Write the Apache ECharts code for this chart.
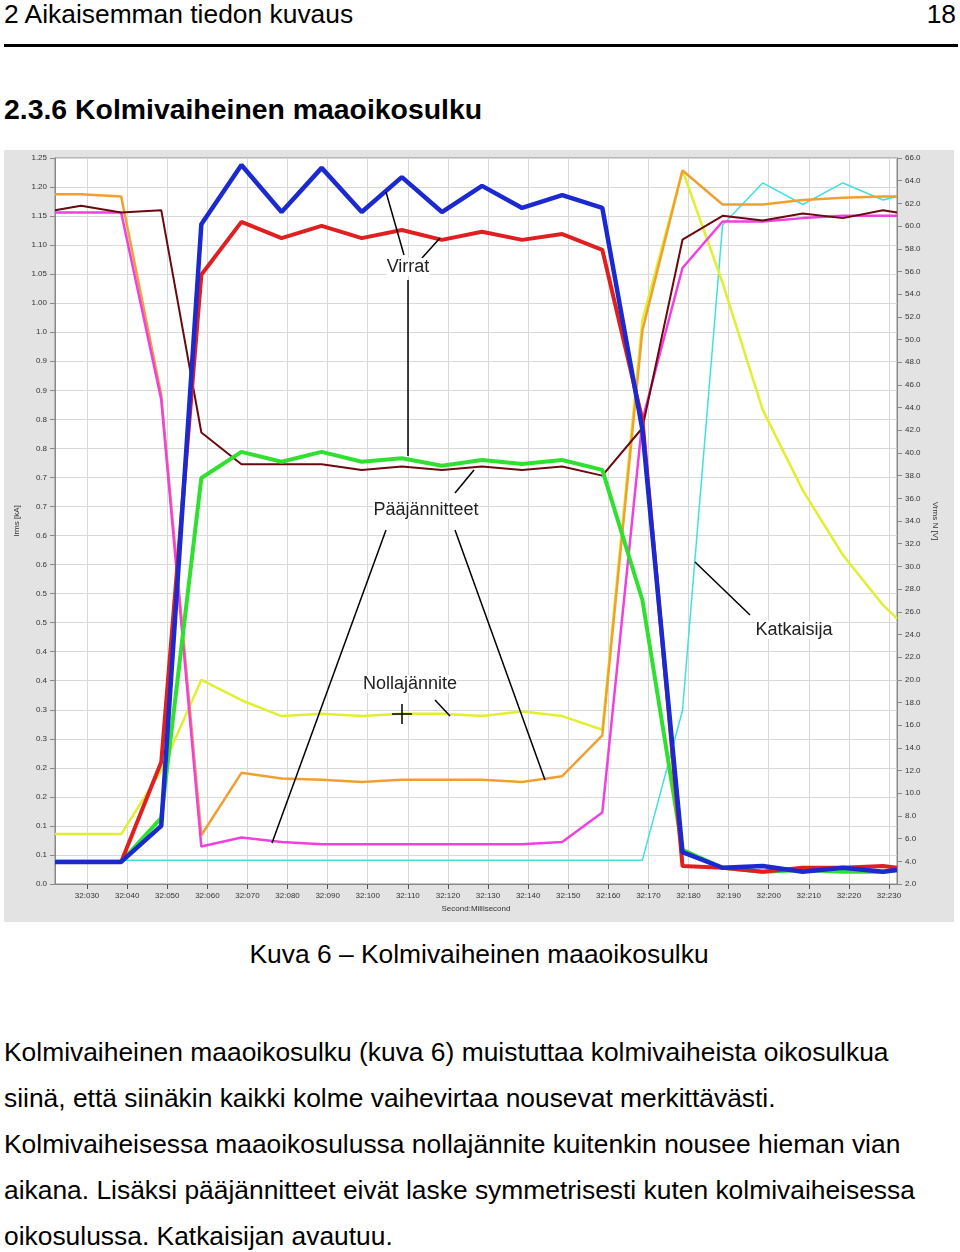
<!DOCTYPE html>
<html><head><meta charset="utf-8">
<script src="https://cdn.jsdelivr.net/npm/echarts@6/dist/echarts.min.js"></script>
<style>
body{margin:0;width:960px;height:1252px;background:#fff;font-family:"Liberation Sans",Arial,sans-serif;position:relative;overflow:hidden}
.t{position:absolute;color:#000;white-space:nowrap}
#c{position:absolute;left:4px;top:150px;width:950px;height:772px}
</style></head><body>
<div class="t" style="left:4px;top:-1px;font-size:26.4px">2 Aikaisemman tiedon kuvaus</div>
<div class="t" style="right:4px;top:-1px;font-size:26.4px">18</div>
<div style="position:absolute;left:4px;top:44px;width:954px;height:3px;background:#000"></div>
<div class="t" style="left:4px;top:93px;font-size:28.4px;font-weight:bold">2.3.6 Kolmivaiheinen maaoikosulku</div>
<div id="c"></div>
<div class="t" style="left:0;width:958px;text-align:center;top:939px;font-size:26.4px">Kuva 6 – Kolmivaiheinen maaoikosulku</div>
<div class="t" style="left:4px;top:1029px;font-size:26.4px;line-height:46px">Kolmivaiheinen maaoikosulku (kuva 6) muistuttaa kolmivaiheista oikosulkua<br>siinä, että siinäkin kaikki kolme vaihevirtaa nousevat merkittävästi.<br>Kolmivaiheisessa maaoikosulussa nollajännite kuitenkin nousee hieman vian<br>aikana. Lisäksi pääjännitteet eivät laske symmetrisesti kuten kolmivaiheisessa<br>oikosulussa. Katkaisijan avautuu.</div>
<script>
const times=[22,28.5,38.5,48.5,58.5,68.5,78.5,88.5,98.5,108.5,118.5,128.5,138.5,148.5,158.5,168.5,178.5,188.5,198.5,208.5,218.5,228.5,232];
const xTicks=[30,40,50,60,70,80,90,100,110,120,130,140,150,160,170,180,190,200,210,220,230];
const xLabels=["32:030","32:040","32:050","32:060","32:070","32:080","32:090","32:100","32:110","32:120","32:130","32:140","32:150","32:160","32:170","32:180","32:190","32:200","32:210","32:220","32:230"];
const leftLabels=["0.0","0.1","0.1","0.2","0.2","0.3","0.3","0.4","0.4","0.5","0.5","0.6","0.6","0.7","0.7","0.8","0.8","0.9","0.9","1.0","1.00","1.05","1.10","1.15","1.20","1.25"];
const currBlue=[0.038,0.038,0.038,0.100,1.136,1.238,1.157,1.233,1.157,1.217,1.157,1.202,1.164,1.186,1.164,0.782,0.055,0.028,0.031,0.021,0.028,0.021,0.024];
const currRed=[0.038,0.038,0.038,0.210,1.049,1.140,1.112,1.133,1.112,1.126,1.109,1.123,1.109,1.119,1.092,0.799,0.031,0.028,0.021,0.028,0.028,0.031,0.028];
const currGreen=[0.038,0.038,0.038,0.114,0.699,0.744,0.727,0.744,0.727,0.733,0.720,0.730,0.723,0.730,0.713,0.489,0.059,0.028,0.021,0.024,0.021,0.021,0.024];
const voltBrown=[61.4,61.8,61.2,61.4,41.8,39.0,39.0,39.0,38.5,38.8,38.5,38.8,38.5,38.8,38.0,42.2,58.8,60.9,60.5,61.1,60.7,61.4,61.2];
const voltOrange=[62.8,62.8,62.6,45.1,6.3,11.8,11.3,11.2,11.0,11.2,11.2,11.2,11.0,11.5,15.1,50.8,64.9,61.9,61.9,62.3,62.5,62.6,62.6];
const voltMagenta=[61.2,61.2,61.2,44.7,5.3,6.1,5.7,5.5,5.5,5.5,5.5,5.5,5.5,5.7,8.3,42.9,56.3,60.4,60.4,60.7,60.9,60.9,60.9];
const voltYellow=[6.4,6.4,6.4,12.0,20.0,18.2,16.8,17.0,16.8,17.0,17.0,16.8,17.2,16.8,15.6,51.7,64.9,55.0,43.8,36.7,31.0,26.6,25.4];
const voltCyan=[4.1,4.1,4.1,4.1,4.1,4.1,4.1,4.1,4.1,4.1,4.1,4.1,4.1,4.1,4.1,4.1,17.3,60.1,63.8,61.9,63.8,62.3,62.6];
const zip=a=>times.map((t,i)=>[t,a[i]]);
const ch=echarts.init(document.getElementById('c'));
const S=(name,d,color,w,yi)=>({name,type:'line',data:zip(d),yAxisIndex:yi,symbol:'none',lineStyle:{color,width:w},z:yi?2:3});
const ax={fontSize:8,color:'#333'};
const line=(x1,y1,x2,y2)=>({type:'line',shape:{x1,y1,x2,y2},style:{stroke:'#000',lineWidth:1.5},z:100});
const txt=(x,y,t)=>({type:'text',x,y,style:{text:t,fill:'#222',font:'18px "Liberation Sans", Arial',align:'center',verticalAlign:'middle',backgroundColor:'#fff'},z:101});
ch.setOption({
 backgroundColor:'#e3e3e3',animation:false,
 grid:{left:51,top:8,right:57,bottom:38,backgroundColor:'#fff',show:true,borderColor:'#888',borderWidth:1},
 xAxis:{type:'value',min:22,max:232,name:'Second:Millisecond',nameLocation:'middle',nameGap:20,nameTextStyle:{fontSize:8,color:'#333'},
  axisLine:{lineStyle:{color:'#888'}},
  axisTick:{customValues:xTicks,lineStyle:{color:'#555'}},
  axisLabel:Object.assign({customValues:xTicks,formatter:v=>xLabels[xTicks.indexOf(v)]},ax),
  splitLine:{show:true,lineStyle:{color:'#d8d8d8'}}},
 yAxis:[{type:'value',min:0,max:1.25,interval:0.05,name:'Irms [kA]',nameLocation:'middle',nameGap:30,nameTextStyle:{fontSize:8,color:'#333'},
  axisLine:{show:true,lineStyle:{color:'#888'}},axisTick:{show:true},
  axisLabel:Object.assign({formatter:v=>leftLabels[Math.round(v/0.05)]},ax),splitLine:{lineStyle:{color:'#d8d8d8'}}},
  {type:'value',min:2,max:66,interval:2,position:'right',name:'Vrms N [V]',nameLocation:'middle',nameGap:34,nameRotate:-90,nameTextStyle:{fontSize:8,color:'#333'},
  axisLine:{show:true,lineStyle:{color:'#888'}},axisTick:{show:true},
  axisLabel:Object.assign({formatter:v=>v.toFixed(1)},ax),splitLine:{show:false}}],
 series:[S('Cyan',voltCyan,'#40e0e0',1.5,1),S('Yellow',voltYellow,'#e0f030',2.5,1),S('Orange',voltOrange,'#f0a030',2.5,1),
  S('Magenta',voltMagenta,'#f040e0',2.5,1),S('Brown',voltBrown,'#6a0a10',2,1),
  S('Green',currGreen,'#30e030',4,0),S('Red',currRed,'#e02020',4,0),S('Blue',currBlue,'#1a2ad0',4.5,0)],
 graphic:[
  line(382,42,400,105),line(436,88,418,108),line(404,130,404,306),
  line(470,320,451,343),line(382,380,268,693),line(451,380,541,630),
  line(431,550,446,566),line(691,412,746,465),
  line(398,554,398,574),line(388,564,408,564),
  txt(404,117,'Virrat'),txt(422,360,'Pääjännitteet'),txt(406,534,'Nollajännite'),txt(790,480,'Katkaisija')
 ]
});
</script></body></html>
